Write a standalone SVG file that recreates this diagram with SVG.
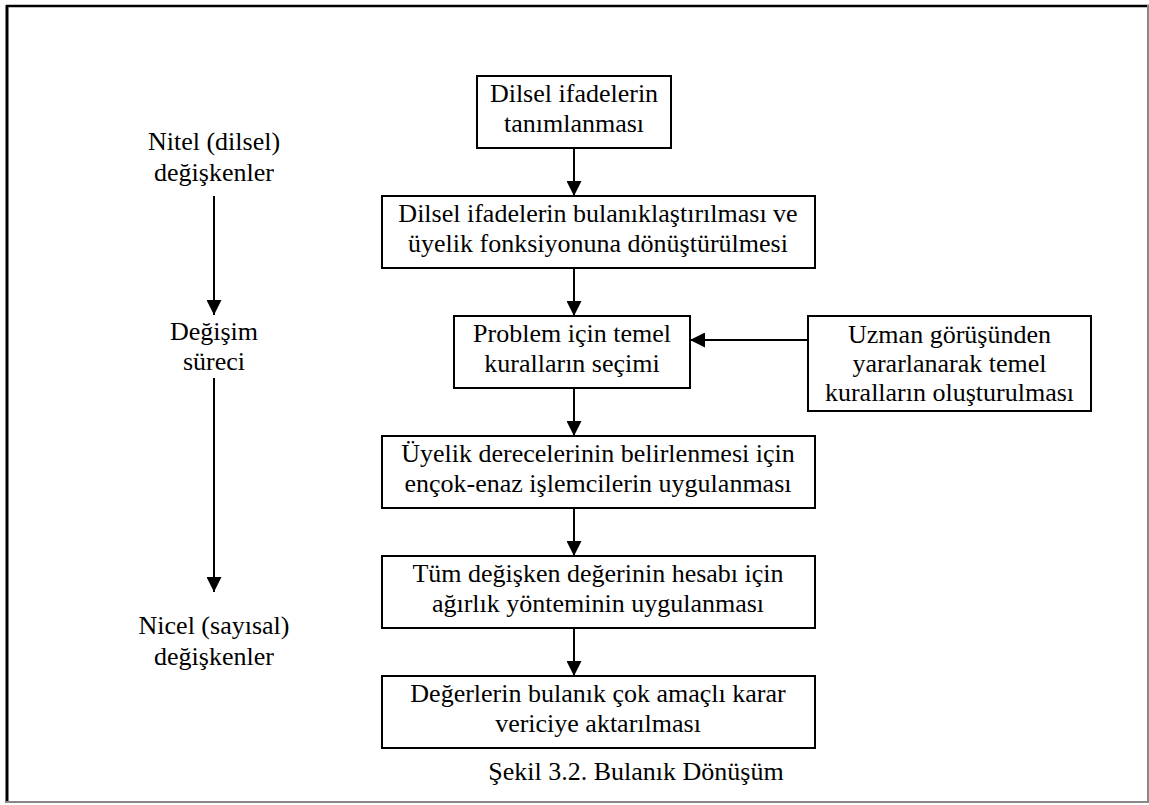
<svg xmlns="http://www.w3.org/2000/svg" width="1149" height="805" viewBox="0 0 1149 805">
<style>
.box{fill:#fff;stroke:#000;stroke-width:2}
.t{font-family:"Liberation Serif","Times New Roman",serif;font-size:26px;fill:#000;text-anchor:middle}
.ln{stroke:#000;stroke-width:2;fill:none}
</style>
<defs>
<marker id="ah" viewBox="0 0 15 15" refX="15" refY="7.5" markerWidth="15" markerHeight="15" markerUnits="userSpaceOnUse" orient="auto">
<path d="M0,0 L15,7.5 L0,15 Z" fill="#000"/>
</marker>
</defs>
<rect width="1149" height="805" fill="#fff"/>
<g id="frame">
<line x1="6" y1="6" x2="1149" y2="6" stroke="#000" stroke-width="2.5"/>
<line x1="7" y1="5" x2="7" y2="803" stroke="#000" stroke-width="3"/>
<line x1="6" y1="802" x2="1149" y2="802" stroke="#888" stroke-width="2"/>
<line x1="1148" y1="5" x2="1148" y2="803" stroke="#888" stroke-width="2"/>
</g>
<g id="connectors">
<line class="ln" x1="574" y1="148" x2="574" y2="196" marker-end="url(#ah)"/>
<line class="ln" x1="574" y1="268" x2="574" y2="316" marker-end="url(#ah)"/>
<line class="ln" x1="574" y1="388" x2="574" y2="436" marker-end="url(#ah)"/>
<line class="ln" x1="574" y1="508" x2="574" y2="556" marker-end="url(#ah)"/>
<line class="ln" x1="574" y1="628" x2="574" y2="676" marker-end="url(#ah)"/>
<line class="ln" x1="808" y1="340" x2="690" y2="340" marker-end="url(#ah)"/>
<line class="ln" x1="214" y1="196" x2="214" y2="315" marker-end="url(#ah)"/>
<line class="ln" x1="214" y1="378" x2="214" y2="592" marker-end="url(#ah)"/>
</g>
<g id="n1"><rect class="box" x="477" y="76" width="194" height="72"/>
<text class="t" x="574" y="102">Dilsel ifadelerin</text><text class="t" x="574" y="132">tanımlanması</text></g>
<g id="n2"><rect class="box" x="382" y="196" width="433" height="72"/>
<text class="t" x="598" y="222">Dilsel ifadelerin bulanıklaştırılması ve</text><text class="t" x="598" y="252">üyelik fonksiyonuna dönüştürülmesi</text></g>
<g id="n3"><rect class="box" x="454" y="316" width="236" height="72"/>
<text class="t" x="572" y="342">Problem için temel</text><text class="t" x="572" y="372">kuralların seçimi</text></g>
<g id="n4"><rect class="box" x="808" y="316" width="283" height="95"/>
<text class="t" x="949.5" y="343">Uzman görüşünden</text><text class="t" x="949.5" y="372">yararlanarak temel</text><text class="t" x="949.5" y="401">kuralların oluşturulması</text></g>
<g id="n5"><rect class="box" x="382" y="436" width="433" height="72"/>
<text class="t" x="598" y="462">Üyelik derecelerinin belirlenmesi için</text><text class="t" x="598" y="492">ençok-enaz işlemcilerin uygulanması</text></g>
<g id="n6"><rect class="box" x="382" y="556" width="433" height="72"/>
<text class="t" x="598" y="582">Tüm değişken değerinin hesabı için</text><text class="t" x="598" y="612">ağırlık yönteminin uygulanması</text></g>
<g id="n7"><rect class="box" x="382" y="676" width="433" height="72"/>
<text class="t" x="598" y="702">Değerlerin bulanık çok amaçlı karar</text><text class="t" x="598" y="732">vericiye aktarılması</text></g>
<g id="labels">
<text class="t" x="214" y="150">Nitel (dilsel)</text><text class="t" x="214" y="181">değişkenler</text>
<text class="t" x="214" y="340">Değişim</text><text class="t" x="214" y="370">süreci</text>
<text class="t" x="214" y="634">Nicel (sayısal)</text><text class="t" x="214" y="665">değişkenler</text>
<text class="t" x="636" y="780">Şekil 3.2. Bulanık Dönüşüm</text>
</g>
</svg>
